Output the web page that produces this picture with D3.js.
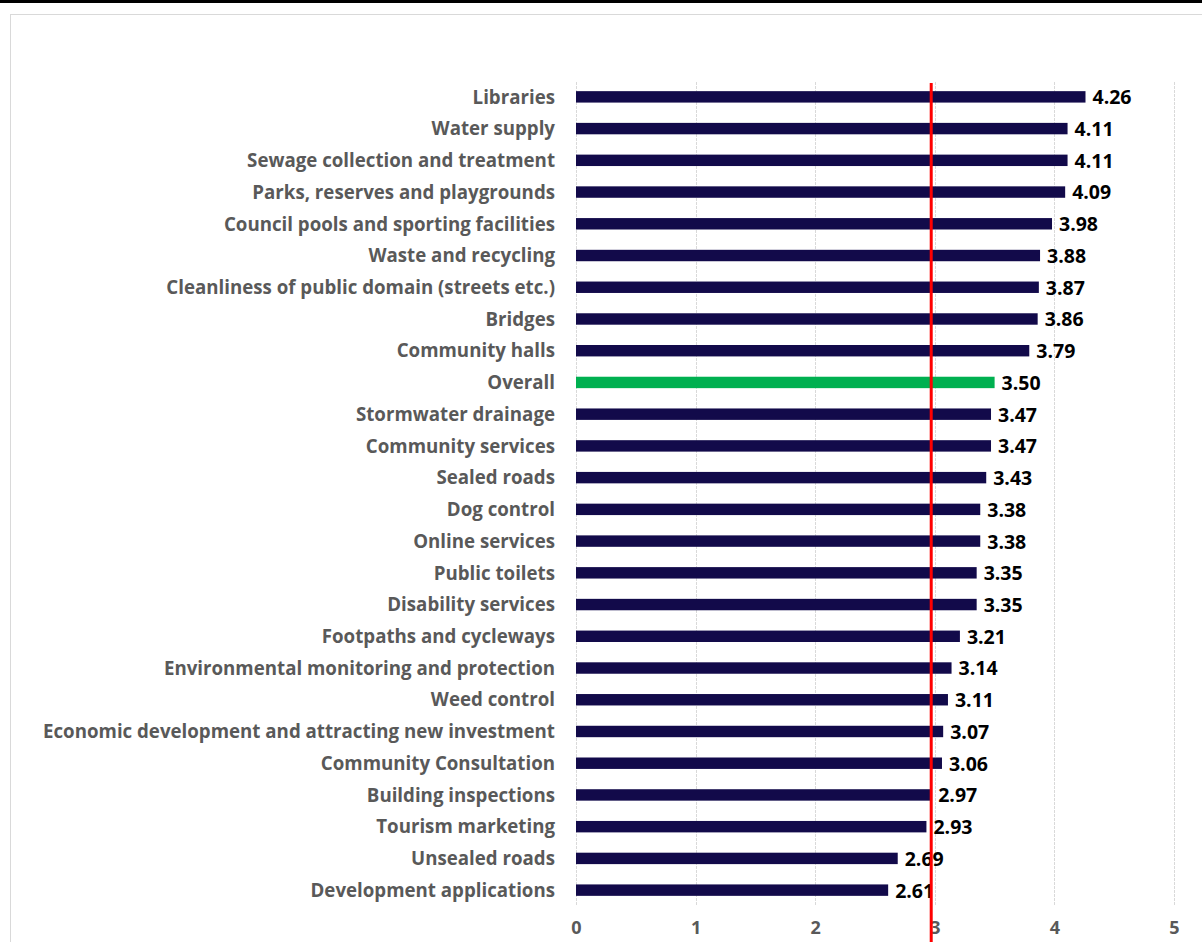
<!DOCTYPE html>
<html><head><meta charset="utf-8">
<script src="https://cdn.jsdelivr.net/npm/d3@7"></script>
<style>body{margin:0;background:#fff;overflow:hidden}</style>
</head><body>
<script>
const categories = ["Libraries","Water supply","Sewage collection and treatment","Parks, reserves and playgrounds","Council pools and sporting facilities","Waste and recycling","Cleanliness of public domain (streets etc.)","Bridges","Community halls","Overall","Stormwater drainage","Community services","Sealed roads","Dog control","Online services","Public toilets","Disability services","Footpaths and cycleways","Environmental monitoring and protection","Weed control","Economic development and attracting new investment","Community Consultation","Building inspections","Tourism marketing","Unsealed roads","Development applications"];
const values = [4.26,4.11,4.11,4.09,3.98,3.88,3.87,3.86,3.79,3.50,3.47,3.47,3.43,3.38,3.38,3.35,3.35,3.21,3.14,3.11,3.07,3.06,2.97,2.93,2.69,2.61];
const xTicks = [0,1,2,3,4,5];
const highlight = "Overall";
const referenceValue = 2.97;

const W = 1202, H = 942;
const svg = d3.select("body").append("svg").attr("width", W).attr("height", H);
const font = "'Open Sans', Lato, sans-serif";

// top black rule and light frame
svg.append("rect").attr("x",0).attr("y",0).attr("width",W).attr("height",3).attr("fill","#000");
svg.append("rect").attr("x",10.5).attr("y",14.5).attr("width",W).attr("height",H).attr("fill","none").attr("stroke","#d9d9d9").attr("stroke-width",1);

const x = d3.scaleLinear().domain([0,5]).range([576,1174]);
const y = d3.scaleBand().domain(categories).range([81,906]).paddingInner(0.64).paddingOuter(0.32);

// gridlines
svg.append("g").selectAll("line").data(xTicks).join("line")
  .attr("x1", d=>Math.round(x(d))+0.5).attr("x2", d=>Math.round(x(d))+0.5)
  .attr("y1", 82).attr("y2", 906)
  .attr("stroke", "#d9d9d9").attr("stroke-dasharray","3,1");

// bars
svg.append("g").selectAll("rect").data(categories).join("rect")
  .attr("x", x(0)).attr("y", d=>y(d))
  .attr("width", (d,i)=>x(values[i])-x(0)).attr("height", y.bandwidth())
  .attr("fill", d=> d===highlight ? "#00b050" : "#120a4a");

// category labels
svg.append("g").selectAll("text").data(categories).join("text")
  .attr("x", 555).attr("y", d=>y(d)+y.bandwidth()/2).attr("dy","0.36em")
  .attr("text-anchor","end").attr("font-family",font).attr("font-weight","bold")
  .attr("font-size",18.7).attr("fill","#595959").text(d=>d);

// value labels
svg.append("g").selectAll("text").data(categories).join("text")
  .attr("x", (d,i)=>x(values[i])+7).attr("y", d=>y(d)+y.bandwidth()/2).attr("dy","0.38em")
  .attr("font-family",font).attr("font-weight","bold")
  .attr("font-size",19.5).attr("fill","#000").text((d,i)=>values[i].toFixed(2));

// x axis
const ax = svg.append("g").attr("transform","translate(0,918)")
  .call(d3.axisBottom(x).tickValues(xTicks).tickFormat(d3.format("d")).tickSize(0));
ax.select(".domain").remove();
ax.selectAll("text").attr("font-family",font).attr("font-weight","bold").attr("font-size",18).attr("fill","#595959");

// reference line
svg.append("line").attr("x1",x(referenceValue)).attr("x2",x(referenceValue))
  .attr("y1",83).attr("y2",H).attr("stroke","#ff0000").attr("stroke-width",3);
</script>
</body></html>
